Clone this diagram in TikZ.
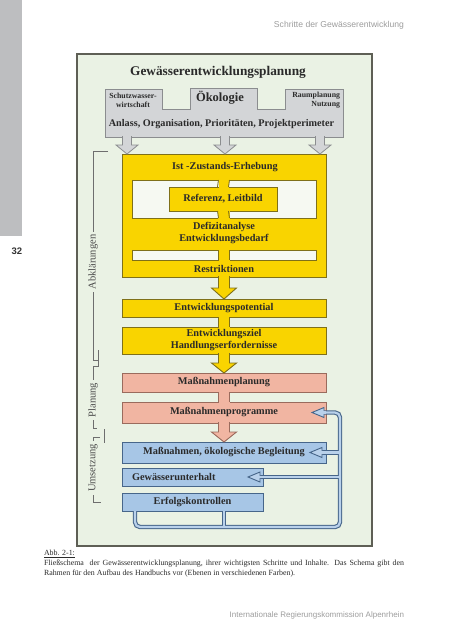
\documentclass[tikz,border=0pt]{standalone}
\usepackage{fontspec}
\setmainfont{Liberation Serif}
\setsansfont{Liberation Sans}
\usetikzlibrary{calc}

\definecolor{bandgrey}{HTML}{BDBEC0}
\definecolor{framefill}{HTML}{EAF2E4}
\definecolor{framedraw}{HTML}{5E5F55}
\definecolor{gfill}{HTML}{D3D5D7}
\definecolor{gdraw}{HTML}{8B8D8F}
\definecolor{yfill}{HTML}{F9D400}
\definecolor{ydraw}{HTML}{7F7019}
\definecolor{pfill}{HTML}{F1B5A2}
\definecolor{pdraw}{HTML}{9A6B5D}
\definecolor{bfill}{HTML}{A7C6E6}
\definecolor{bdraw}{HTML}{47668A}
\definecolor{wfill}{HTML}{F6F9F2}
\definecolor{txt}{HTML}{2A2A2A}
\definecolor{lighttxt}{HTML}{9C9C9C}
\definecolor{brk}{HTML}{6E6E6E}

% style, from, to, shaft half width, head half width, head length
\newcommand\blockarr[6]{\draw[#1] ($(#2)+(-#4,-1)$) -- ($(#3)+(-#4,-#6)$) -- ($(#3)+(-#5,-#6)$) -- (#3) -- ($(#3)+(#5,-#6)$) -- ($(#3)+(#4,-#6)$) -- ($(#2)+(#4,-1)$);}
% fill colour, draw colour, from, to
\newcommand\connstrip[4]{\fill[#1] ($(#3)+(-5.5,-1)$) rectangle ($(#4)+(5.5,1)$);
\draw[#2,line width=0.9pt] ($(#3)+(-5.5,0)$) -- ($(#4)+(-5.5,0)$) ($(#3)+(5.5,0)$) -- ($(#4)+(5.5,0)$);}

\begin{document}
\begin{tikzpicture}[x=1pt,y=-1pt,
  every node/.style={text=txt, inner sep=0pt, outer sep=0pt},
  ybox/.style={draw=ydraw, fill=yfill, line width=0.9pt},
  pbox/.style={draw=pdraw, fill=pfill, line width=0.9pt},
  bbox/.style={draw=bdraw, fill=bfill, line width=0.9pt},
  wbox/.style={draw=ydraw, fill=wfill, line width=0.9pt},
  boxtext/.style={font=\bfseries\fontsize{10.3}{12}\selectfont},
  yarr/.style={fill=yfill, draw=ydraw, line width=0.9pt, line join=miter},
  parr/.style={fill=pfill, draw=pdraw, line width=0.9pt, line join=miter},
  garr/.style={fill=gfill, draw=gdraw, line width=0.8pt, line join=miter},
  pipeo/.style={draw=bdraw, line width=4.4pt, rounded corners=5pt},
  pipei/.style={draw=bfill!80!white, line width=2.2pt, rounded corners=5pt},
  ahead/.style={draw=bdraw, fill=bfill!80!white, line width=0.9pt, line join=miter},
  brkline/.style={draw=brk, line width=0.9pt},
  brklabel/.style={rotate=90, fill=framefill, inner xsep=3pt, inner ysep=1pt, font=\fontsize{10.5}{12}\selectfont, text=txt!85!white}
]
\useasboundingbox (0,0) rectangle (453,640);

% page decoration
\fill[bandgrey] (0,0) rectangle (22,236);
\node[font=\sffamily\bfseries\fontsize{9.5}{11}\selectfont, text=black!80] (pagenum) at (17,251) {32};
\node[anchor=base east, font=\sffamily\fontsize{8.6}{10}\selectfont, text=lighttxt] (header) at (404,27) {Schritte der Gewässerentwicklung};

% outer frame
\node[draw=framedraw, fill=framefill, line width=1.1pt, minimum width=295, minimum height=492] (frame) at (224.5,300) {};
\node[font=\bfseries\fontsize{13.3}{15}\selectfont] (title) at (218,72) {Gewässerentwicklungsplanung};

% grey top shape
\draw[fill=gfill, draw=gdraw, line width=0.8pt] (105,89) -- (162,89) -- (162,109) -- (190,109) -- (190,88) -- (257,88) -- (257,109) -- (285,109) -- (285,89) -- (343,89) -- (343,137) -- (105,137) -- cycle;
\node[font=\bfseries\fontsize{7.8}{8.8}\selectfont, align=center] (schutz) at (133,100.5) {Schutzwasser-\\wirtschaft};
\node[font=\bfseries\fontsize{12.5}{14}\selectfont] (oeko) at (220,98) {Ökologie};
\node[font=\bfseries\fontsize{7.8}{8.8}\selectfont, align=right, anchor=east] (raum) at (340,100.5) {Raumplanung\\Nutzung};
\node[font=\bfseries\fontsize{10.2}{12}\selectfont] (anlass) at (221.5,124) {Anlass, Organisation, Prioritäten, Projektperimeter};

% yellow level
\node[ybox, minimum width=204, minimum height=123] (big) at (224,215.5) {};
\node[boxtext] (ist) at (225,167) {Ist -Zustands-Erhebung};
\node[wbox, minimum width=184, minimum height=38] (wframe) at (224,199) {};
\node[ybox, boxtext, minimum width=108, minimum height=24] (ref) at (223,199) {Referenz, Leitbild};
\connstrip{yfill}{ydraw}{wframe.north}{ref.north}
\connstrip{yfill}{ydraw}{ref.south}{wframe.south}
\node[boxtext, align=center] (defizit) at (224,233) {Defizitanalyse\\Entwicklungsbedarf};
\node[wbox, minimum width=184, minimum height=10] (wbar) at (224,255) {};
\connstrip{yfill}{ydraw}{wbar.north}{wbar.south}
\node[boxtext] (restr) at (224,269) {Restriktionen};

\coordinate (g1) at (127,137); \coordinate (g1t) at (g1 |- big.north);
\coordinate (g2) at (225,137); \coordinate (g2t) at (g2 |- big.north);
\coordinate (g3) at (320,137); \coordinate (g3t) at (g3 |- big.north);
\blockarr{garr}{g1}{g1t}{4.5}{11}{9}
\blockarr{garr}{g2}{g2t}{4.5}{11}{9}
\blockarr{garr}{g3}{g3t}{4.5}{11}{9}

\node[ybox, boxtext, minimum width=204, minimum height=18] (pot) at (224,308) {Entwicklungspotential};
\node[ybox, boxtext, align=center, minimum width=204, minimum height=27] (ziel) at (224,340.5) {Entwicklungsziel\\Handlungserfordernisse};
\blockarr{yarr}{big.south}{pot.north}{5.5}{12.5}{11}
\connstrip{yfill}{ydraw}{pot.south}{ziel.north}

% pink level
\node[pbox, boxtext, minimum width=204, minimum height=19] (plan) at (224,382.5) {Maßnahmenplanung};
\node[pbox, boxtext, minimum width=204, minimum height=21] (prog) at (224,412.5) {Maßnahmenprogramme};
\blockarr{yarr}{ziel.south}{plan.north}{5.5}{12.5}{10}
\connstrip{pfill}{pdraw}{plan.south}{prog.north}

% blue level
\node[bbox, boxtext, minimum width=204, minimum height=21] (massn) at (224,452.5) {Maßnahmen, ökologische Begleitung};
\node[bbox, boxtext, minimum width=141, minimum height=18, text width=121pt, inner xsep=10pt, align=left] (unt) at (192.5,477) {Gewässerunterhalt};
\node[bbox, boxtext, minimum width=141, minimum height=18] (erf) at (192.5,502) {Erfolgskontrollen};
\blockarr{parr}{prog.south}{massn.north}{5.5}{12.5}{10}

% feedback pipes
\coordinate (p1) at ([xshift=-57.5]erf.south);
\coordinate (p2) at ([xshift=31.5]erf.south);
\coordinate (pc) at (340,527);
\coordinate (a1) at ([xshift=-14]prog.east);
\coordinate (a2) at ([xshift=-16]massn.east);
\coordinate (a3) at ([xshift=-15]unt.east);
\foreach \sty in {pipeo,pipei}{
  \draw[\sty] (p1) -- (p1 |- pc) -- (pc) -- (pc |- a1) -- ([xshift=11]a1);
  \draw[\sty] (p2) -- (p2 |- pc);
  \draw[\sty] (pc |- a2) -- ([xshift=11]a2);
  \draw[\sty] (pc |- a3) -- ([xshift=11]a3);
}
\foreach \t in {a1,a2,a3}{
  \draw[ahead] (\t) -- ++(12,-5) -- ++(0,10) -- cycle;
  \draw[pipei] ([xshift=14]\t) -- ([xshift=9]\t);
}

% left brackets
\draw[brkline] (108,151) -- (93,151) -- (93,360) -- (98,360);
\draw[brkline] (98,350) -- (98,367);
\draw[brkline] (98,366) -- (93,366) -- (93,428) -- (97,428);
\draw[brkline] (104,429) -- (104,443);
\draw[brkline] (100,437) -- (93,437) -- (93,502) -- (101,502);
\node[brklabel] (abkl) at (93,262) {Abklärungen};
\node[brklabel] (planung) at (93,400) {Planung};
\node[brklabel] (umsetz) at (93,468) {Umsetzung};

% caption and footer
\node[anchor=north west, text width=360pt, align=justify, font=\normalfont\fontsize{7.9}{9.7}\selectfont, text=txt] (caption) at (44,550.5) {\underline{Abb. 2-1:}\\ Fließschema\ \ der Gewässerentwicklungsplanung, ihrer wichtigsten Schritte und Inhalte. Das Schema gibt den\linebreak Rahmen für den Aufbau des Handbuchs vor (Ebenen in verschiedenen Farben).};
\node[anchor=base east, font=\sffamily\fontsize{8}{10}\selectfont, text=lighttxt] (footer) at (404,617) {Internationale Regierungskommission Alpenrhein};
\end{tikzpicture}
\end{document}
